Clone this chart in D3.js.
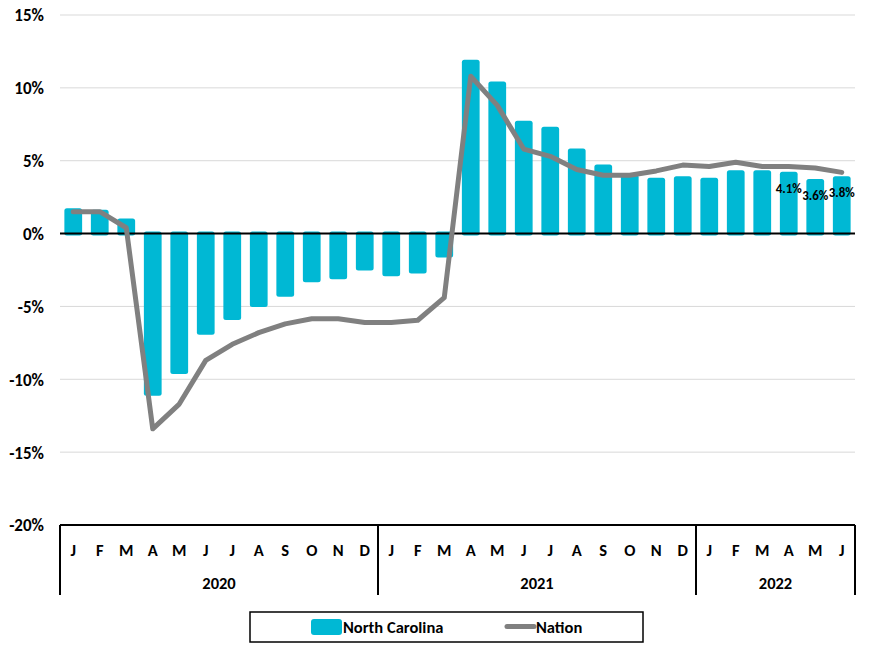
<!DOCTYPE html>
<html>
<head>
<meta charset="utf-8">
<script src="https://cdn.jsdelivr.net/npm/d3@7"></script>
<style>
  body { margin: 0; background: #fff; }
  text { font-family: Carlito, "Liberation Sans Narrow", "Liberation Sans", sans-serif; font-weight: bold; }
</style>
</head>
<body>
<div id="chart"></div>
<script>
// months shown on the axis, grouped by year
const years = ['2020', '2021', '2022'];
const monthLetters = ['J', 'F', 'M', 'A', 'M', 'J', 'J', 'A', 'S', 'O', 'N', 'D'];
const monthsPerYear = [12, 12, 6];

// year-over-year job growth, %
const northCarolina = [
    1.6, 1.5, 0.9, -11.0, -9.5, -6.8, -5.8, -4.9, -4.2, -3.2, -3.0, -2.4,
    -2.8, -2.6, -1.5, 11.8, 10.3, 7.6, 7.2, 5.7, 4.6, 3.9, 3.7, 3.8,
    3.7, 4.2, 4.2, 4.1, 3.6, 3.8
];
const nation = [
    1.5, 1.5, 0.4, -13.4, -11.7, -8.7, -7.6, -6.8, -6.2, -5.85, -5.85, -6.1,
    -6.1, -5.95, -4.4, 10.8, 8.8, 5.8, 5.3, 4.4, 4.0, 4.0, 4.3, 4.7,
    4.6, 4.9, 4.6, 4.6, 4.5, 4.2
];
// labelled bars (indexes into northCarolina)
const labelled = [27, 28, 29];
const yTicks = [15, 10, 5, 0, -5, -10, -15, -20];

const W = 895, H = 651;
const margin = {top: 15, right: 40, bottom: 126, left: 60};
const width = W - margin.left - margin.right;
const height = H - margin.top - margin.bottom;

// build the category list
const cats = [];
years.forEach((yr, yi) => {
    for (let m = 0; m < monthsPerYear[yi]; m++) {
        cats.push({key: yr + '-' + m, year: yr, letter: monthLetters[m]});
    }
});

const svg = d3.select('#chart')
    .append('svg')
    .attr('width', W)
    .attr('height', H);

const g = svg.append('g')
    .attr('transform', `translate(${margin.left}, ${margin.top})`);

const x = d3.scaleBand()
    .domain(cats.map(d => d.key))
    .range([0, width])
    .paddingInner(0.33)
    .paddingOuter(0.165);

const y = d3.scaleLinear()
    .domain([-20, 15])
    .range([height, 0]);

// gridlines
g.append('g')
    .selectAll('line')
    .data(yTicks.filter(t => t !== 0 && t !== -20))
    .enter()
    .append('line')
    .attr('x1', 0)
    .attr('x2', width)
    .attr('y1', d => y(d))
    .attr('y2', d => y(d))
    .style('stroke', '#d9d9d9')
    .style('stroke-width', 1);

// y axis labels
const yAxis = g.append('g')
    .call(d3.axisLeft(y).tickValues(yTicks).tickSize(0).tickPadding(16).tickFormat(d => d + '%'));
yAxis.select('.domain').remove();
yAxis.selectAll('text')
    .style('font-size', '17px')
    .style('fill', '#000')
    .attr('dy', '0.35em');

// bars: rounded ends stick out a couple of pixels at both ends, as in the original
const pad = 2;
g.append('g')
    .selectAll('rect')
    .data(northCarolina)
    .enter()
    .append('rect')
    .attr('x', (d, i) => x(cats[i].key))
    .attr('width', x.bandwidth())
    .attr('y', d => Math.min(y(d), y(0)) - pad)
    .attr('height', d => Math.abs(y(d) - y(0)) + 2 * pad)
    .attr('rx', 2.5)
    .style('fill', '#00b8d4');

// zero line
g.append('line')
    .attr('x1', 0)
    .attr('x2', width)
    .attr('y1', y(0))
    .attr('y2', y(0))
    .style('stroke', '#000')
    .style('stroke-width', 2);

// nation line
const line = d3.line()
    .x((d, i) => x(cats[i].key) + x.bandwidth() / 2)
    .y(d => y(d));
g.append('path')
    .datum(nation)
    .attr('d', line)
    .style('fill', 'none')
    .style('stroke', '#808080')
    .style('stroke-width', 5)
    .style('stroke-linejoin', 'round')
    .style('stroke-linecap', 'round');

// data labels
g.append('g')
    .selectAll('text')
    .data(labelled)
    .enter()
    .append('text')
    .attr('x', i => x(cats[i].key) + x.bandwidth() / 2)
    .attr('y', i => y(northCarolina[i]) + 19)
    .attr('text-anchor', 'middle')
    .style('font-size', '13px')
    .style('fill', '#000')
    .text(i => northCarolina[i].toFixed(1) + '%');

// category axis: box with month letters and year groups
const axisG = g.append('g').attr('transform', `translate(0, ${height})`);
axisG.append('line')
    .attr('x1', 0).attr('x2', width)
    .attr('y1', 0).attr('y2', 0)
    .style('stroke', '#000').style('stroke-width', 2);

axisG.selectAll('.month')
    .data(cats)
    .enter()
    .append('text')
    .attr('class', 'month')
    .attr('x', d => x(d.key) + x.bandwidth() / 2)
    .attr('y', 31)
    .attr('text-anchor', 'middle')
    .style('font-size', '16.5px')
    .text(d => d.letter);

// year separators and labels
let start = 0;
const step = x.step();
const bounds = [0];
monthsPerYear.forEach(n => { start += n; bounds.push(Math.min(width, start * step)); });

axisG.selectAll('.sep')
    .data(bounds)
    .enter()
    .append('line')
    .attr('x1', d => d).attr('x2', d => d)
    .attr('y1', 0).attr('y2', 70)
    .style('stroke', '#000').style('stroke-width', 2);

axisG.selectAll('.year')
    .data(years)
    .enter()
    .append('text')
    .attr('x', (d, i) => (bounds[i] + bounds[i + 1]) / 2)
    .attr('y', 64)
    .attr('text-anchor', 'middle')
    .style('font-size', '16.5px')
    .text(d => d);

// legend
const legend = svg.append('g').attr('transform', 'translate(250, 612)');
legend.append('rect')
    .attr('width', 393).attr('height', 30)
    .style('fill', '#fff').style('stroke', '#000').style('stroke-width', 1.5);
legend.append('rect')
    .attr('x', 61).attr('y', 7).attr('width', 31).attr('height', 16).attr('rx', 3)
    .style('fill', '#00b8d4');
legend.append('text')
    .attr('x', 93).attr('y', 20.5)
    .style('font-size', '16.5px')
    .text('North Carolina');
legend.append('line')
    .attr('x1', 257).attr('x2', 284).attr('y1', 14.5).attr('y2', 14.5)
    .style('stroke', '#808080').style('stroke-width', 5).style('stroke-linecap', 'round');
legend.append('text')
    .attr('x', 286).attr('y', 20.5)
    .style('font-size', '16.5px')
    .text('Nation');
</script>
</body>
</html>
